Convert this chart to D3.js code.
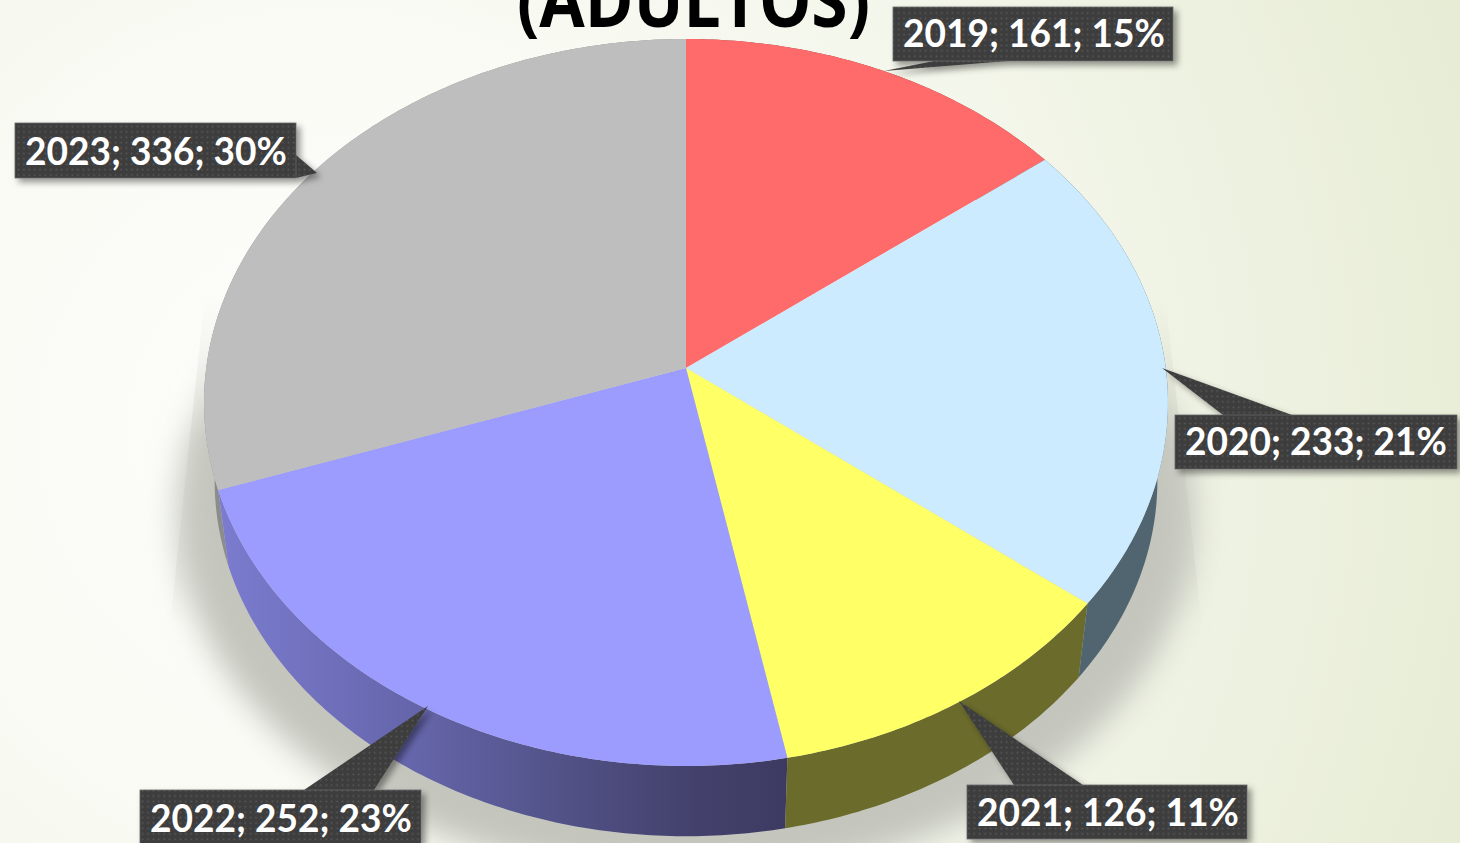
<!DOCTYPE html>
<html><head><meta charset="utf-8">
<script src="https://cdnjs.cloudflare.com/ajax/libs/d3/7.8.5/d3.min.js"></script>
<style>html,body{margin:0;padding:0;overflow:hidden;background:#f4f6ea}svg{display:block}</style>
</head><body><svg id="c" width="1460" height="843"></svg>
<script>
const years = ["2019","2020","2021","2022","2023"];
const values = [161,233,126,252,336];
const percents = [15,21,11,23,30];
const topColors = ["#ff6b6b","#cdebff","#ffff66","#9c9cff","#bebebe"];
const sideColors = ["#8a4040","#516570","#6b6b2c","url(#sideP)","#8c8c8c"];
const titleText = "(ADULTOS)";

// label layout: box [x,y,w,h], pointer tip, pointer base, text origin
const boxes = [[893,7,280,54],[1175,415,282,54],[967,785,280,54],[140,790,281,54],[15,123,281,55]];
const tips = [[884,71],[1162,368],[959,701],[428,706],[317,173]];
const bases = [[[934,61],[1008,61]],[[1223,415],[1292,415]],[[1014,785],[1083,785]],[[304,790],[374,790]],[[296,155],[296,178]]];
const textAt = [[903,47],[1185,455],[977,826],[150,832],[25,165]];

const W=1460,H=843, cx=686, cy=368, A=479.8, B=360.2, K=0.0949, depthScale=0.978, depthY=447;
const svg=d3.select("#c");
const defs=svg.append("defs");

const bg=defs.append("radialGradient").attr("id","bg").attr("gradientUnits","userSpaceOnUse")
  .attr("cx",330).attr("cy",430).attr("r",1200);
[[0,"#fdfefb"],[.3,"#fafbf5"],[.6,"#f3f6ea"],[1,"#e7ecd5"]].forEach(s=>bg.append("stop").attr("offset",s[0]).attr("stop-color",s[1]));

const sp=defs.append("linearGradient").attr("id","sideP").attr("gradientUnits","userSpaceOnUse")
  .attr("x1",218).attr("x2",787).attr("y1",0).attr("y2",0);
[[0,"#7c7cd0"],[.3,"#6868b0"],[.55,"#56568f"],[.8,"#45436f"],[1,"#3d3a62"]].forEach(s=>sp.append("stop").attr("offset",s[0]).attr("stop-color",s[1]));

const fade=defs.append("linearGradient").attr("id","fade").attr("gradientUnits","userSpaceOnUse")
  .attr("x1",0).attr("x2",0).attr("y1",290).attr("y2",440);
[[0,"#000"],[1,"#fff"]].forEach(s=>fade.append("stop").attr("offset",s[0]).attr("stop-color",s[1]));
defs.append("mask").attr("id","fadeM").attr("maskUnits","userSpaceOnUse").attr("x",0).attr("y",0).attr("width",W).attr("height",H)
  .append("rect").attr("width",W).attr("height",H).attr("fill","url(#fade)");
const fade2=defs.append("linearGradient").attr("id","fade2").attr("gradientUnits","userSpaceOnUse")
  .attr("x1",0).attr("x2",0).attr("y1",295).attr("y2",625);
[[0,"#9a9c92",0],[.45,"#9a9c92",.2],[.8,"#9a9c92",.14],[1,"#9a9c92",0]].forEach(s=>fade2.append("stop").attr("offset",s[0]).attr("stop-color",s[1]).attr("stop-opacity",s[2]));
const blur=defs.append("filter").attr("id","blur").attr("filterUnits","userSpaceOnUse").attr("x",0).attr("y",0).attr("width",W).attr("height",H);
blur.append("feGaussianBlur").attr("stdDeviation",15);
const ds=defs.append("filter").attr("id","ds").attr("x","-20%").attr("y","-20%").attr("width","140%").attr("height","140%");
ds.append("feDropShadow").attr("dx",4).attr("dy",4).attr("stdDeviation",3).attr("flood-color","#000").attr("flood-opacity",.4);
const pat=defs.append("pattern").attr("id","dots").attr("patternUnits","userSpaceOnUse").attr("width",5.4).attr("height",5.4);
pat.append("rect").attr("width",5.4).attr("height",5.4).attr("fill","#3e3e3e");
pat.append("rect").attr("x",1.5).attr("y",1.5).attr("width",1.5).attr("height",1.5).attr("fill","#5a5a5a");

svg.append("rect").attr("width",W).attr("height",H).attr("fill","url(#bg)");

// projection of a tilted circle (perspective)
const proj=t=>{const X=Math.sin(t),Y=-Math.cos(t),d=1-K*Y;return [cx+A*X/d,cy+B*Y/d];};
const low=p=>[cx+(p[0]-cx)*depthScale,depthY+(p[1]-cy)*depthScale];
const line=d3.line();
const arcPts=(a,b)=>{const n=Math.max(2,Math.ceil((b-a)*80));return d3.range(n+1).map(i=>proj(a+(b-a)*i/n));};

const slices=d3.pie().sort(null).value(d=>d)(values);

// ground shadow
svg.append("path").attr("d",line([[205,295],[1165,295],[1202,625],[170,625]])+"Z").attr("fill","url(#fade2)");
const shadow=svg.append("g").attr("mask","url(#fadeM)");
const whole=arcPts(0,2*Math.PI);
const grow=p=>[cx+(p[0]-cx)*1.055,depthY+35+(p[1]-cy)*1.0];
shadow.append("path").attr("d",line(whole.map(grow))+"Z").attr("fill","#c4c6be").attr("filter","url(#blur)");

// sides, farthest first so the nearer walls cover the grey sliver
svg.append("g").selectAll("path").data(slices.slice().reverse()).join("path")
  .attr("d",d=>{const pts=arcPts(d.startAngle,d.endAngle);return line(pts.concat(pts.map(low).reverse()))+"Z";})
  .attr("fill",d=>sideColors[d.index]);

// top faces
svg.append("g").selectAll("path").data(slices).join("path")
  .attr("d",d=>line([[cx,cy]].concat(arcPts(d.startAngle,d.endAngle)))+"Z")
  .attr("fill",(d,i)=>topColors[i]);

// title (clipped by page top, as in the reference)
svg.append("text").text(titleText).attr("x",517).attr("y",27)
  .attr("font-family","'Open Sans'").attr("font-weight",700).attr("font-size",74).attr("fill","#000")
  .attr("textLength",353).attr("lengthAdjust","spacingAndGlyphs");

// labels
const lab=svg.append("g").selectAll("g").data(years).join("g");
lab.append("g").attr("filter","url(#ds)").each(function(y,i){
  const g=d3.select(this),b=boxes[i];
  g.append("path").attr("d",line([tips[i],bases[i][0],bases[i][1]])+"Z").attr("fill","url(#dots)");
  g.append("rect").attr("x",b[0]).attr("y",b[1]).attr("width",b[2]).attr("height",b[3]).attr("fill","url(#dots)").attr("stroke","#666").attr("stroke-width",.8);
});
lab.append("text").text((y,i)=>`${y}; ${values[i]}; ${percents[i]}%`)
  .attr("x",(y,i)=>textAt[i][0]).attr("y",(y,i)=>textAt[i][1])
  .attr("font-family","Lato").attr("font-weight",700).attr("font-size",39).attr("fill","#fff")
  .attr("textLength",262).attr("lengthAdjust","spacingAndGlyphs");
</script></body></html>
